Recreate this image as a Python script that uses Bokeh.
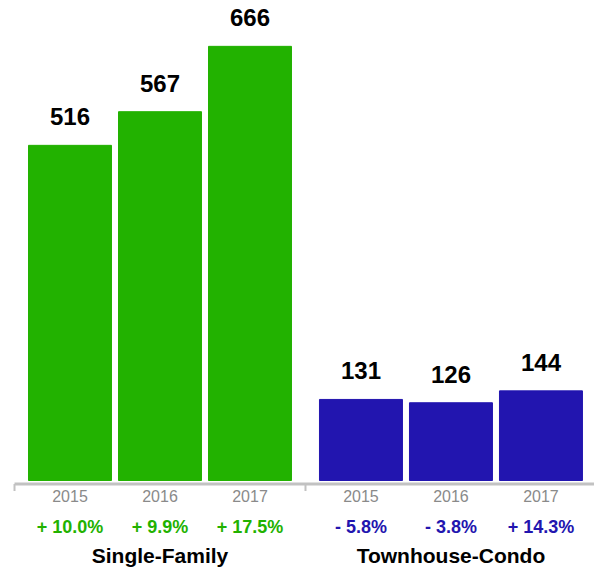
from bokeh.plotting import figure
from bokeh.models import Range1d, ColumnDataSource
from bokeh.core.properties import value
from bokeh.embed import file_html
from bokeh.resources import INLINE

# ---- data ----
groups = ["Single-Family", "Townhouse-Condo"]
years = ["2015", "2016", "2017"]
single_family = [516, 567, 666]
townhouse_condo = [131, 126, 144]
sf_change = ["+ 10.0%", "+ 9.9%", "+ 17.5%"]
tc_change = ["- 5.8%", "- 3.8%", "+ 14.3%"]
group_colors = ["#22B200", "#2215AF"]
axis_min = 8.2  # value at the chart baseline

# ---- layout ----
W, H = 594, 569
GAP = 0.233          # extra gap between groups (in bar slots)
BAR_W = 0.922
PX_PER_UNIT = 90.0
PX_PER_VAL = 0.66
BASE_PX = 480.0      # pixel row of baseline from top
LEFT_PX = 69.5       # pixel of first bar centre

series = [single_family, townhouse_condo]
changes = [sf_change, tc_change]

xs, tops, cols, yrs, chg, lbl = [], [], [], [], [], []
gx, gname = [], []
for gi, (g, vals, ch) in enumerate(zip(groups, series, changes)):
    offs = gi * (len(years) + GAP)
    for yi, (yr, v, c) in enumerate(zip(years, vals, ch)):
        xs.append(offs + yi)
        tops.append(v)
        cols.append(group_colors[gi])
        yrs.append(yr)
        chg.append(c)
        lbl.append(str(v))
    gx.append(offs + (len(years) - 1) / 2)
    gname.append(g)

src = ColumnDataSource(dict(x=xs, top=tops, color=cols, year=yrs, chg=chg, lbl=lbl))
gsrc = ColumnDataSource(dict(x=gx, name=gname))

x0 = -LEFT_PX / PX_PER_UNIT
x1 = (W - LEFT_PX) / PX_PER_UNIT
y_top = axis_min + BASE_PX / PX_PER_VAL
y_bot = axis_min - (H - BASE_PX) / PX_PER_VAL

p = figure(width=W, height=H, output_backend="svg", toolbar_location=None,
           x_range=Range1d(x0, x1), y_range=Range1d(y_bot, y_top),
           x_axis_location=None, y_axis_location=None,
           min_border=0, outline_line_color=None)
p.grid.visible = False
p.background_fill_color = "white"
p.border_fill_color = "white"

p.vbar(x="x", top="top", bottom=axis_min, width=BAR_W, color="color", source=src)

font = value("Liberation Sans")
# value labels
p.text(x="x", y="top", text="lbl", source=src, text_font=font, text_font_style="bold",
       text_font_size="24px", text_color="#000000", text_align="center",
       text_baseline="bottom", y_offset=-20)
# year labels
p.text(x="x", y=axis_min, text="year", source=src, text_font=font,
       text_font_size="16px", text_color="#8a8a8a", text_align="center",
       text_baseline="middle", y_offset=15)
# percent change labels
p.text(x="x", y=axis_min, text="chg", source=src, text_font=font, text_font_style="bold",
       text_font_size="18px", text_color="color", text_align="center",
       text_baseline="middle", y_offset=46)
# group labels
p.text(x="x", y=axis_min, text="name", source=gsrc, text_font=font, text_font_style="bold",
       text_font_size="21px", text_color="#000000", text_align="center",
       text_baseline="middle", y_offset=75)

# category axis line and group boundary ticks
axis_y = axis_min - 3.5 / PX_PER_VAL
bounds = [gi * (len(years) + GAP) - 0.5 - GAP / 2 for gi in range(len(groups) + 1)]
p.segment(x0=bounds[0], y0=axis_y, x1=bounds[-1], y1=axis_y, line_color="#c2c2c2", line_width=3)
p.segment(x0=bounds, y0=[axis_y] * len(bounds), x1=bounds,
          y1=[axis_y - 7 / PX_PER_VAL] * len(bounds), line_color="#c2c2c2", line_width=2)

open("out.html", "w").write(file_html(p, INLINE))
